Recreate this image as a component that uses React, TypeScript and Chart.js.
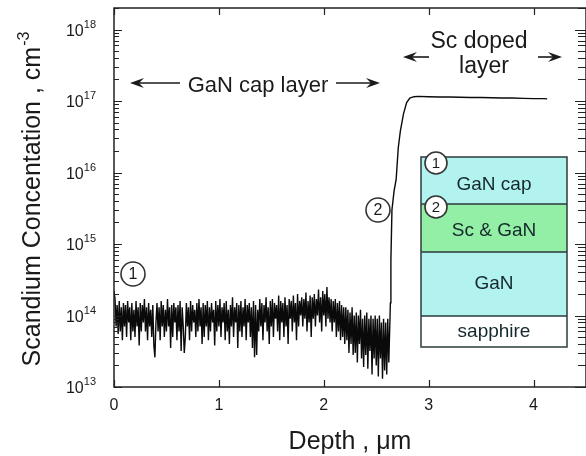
import React, { useEffect, useRef } from 'react';
import { Chart, registerables } from 'chart.js';

Chart.register(...registerables);

const W = 586;
const H = 456;

// depth grid of the noisy GaN-cap region (µm)
const capStartUm = 0;
const capStepUm = 0.01;
// Sc concentration in the GaN cap region, units of 1e13 cm^-3 (one value per 0.01 µm)
const capConc = [
  22, 17, 7, 14, 5.5, 16, 6, 13, 4.5, 15,
  7, 14, 5, 16, 8, 13, 4.5, 15, 6, 12,
  5, 16, 7, 13, 3.8, 15, 6, 14, 8, 17,
  6, 13, 4.5, 15, 7, 12, 5, 14, 3.8, 2.6,
  8, 15, 6, 13, 4.5, 16, 7, 14, 5, 12,
  6, 17, 7, 13, 3.5, 14, 5, 15, 8, 13,
  4.5, 14, 6, 16, 3.2, 13, 7, 3, 5, 15,
  7, 13, 4.5, 16, 6, 14, 8, 12, 5, 15,
  6, 17, 7, 13, 4, 15, 5, 14, 7, 16,
  4.5, 13, 6, 15, 8, 12, 3.8, 16, 6, 14,
  7, 17, 5, 13, 8, 15, 4.5, 16, 6, 12,
  4, 14, 7, 18, 5, 13, 8, 15, 3.5, 14,
  6, 16, 5, 13, 7, 17, 4.5, 14, 8, 15,
  5, 13, 3.5, 16, 2.6, 14, 2.8, 12, 6, 17,
  7, 15, 4.5, 14, 8, 18, 6, 13, 4, 16,
  7, 17, 5, 15, 9, 14, 6, 19, 4.5, 16,
  8, 15, 5, 18, 7, 14, 4, 17, 9, 16,
  6, 19, 8, 15, 4.5, 20, 7, 16, 10, 18,
  7, 17, 9, 21, 6, 16, 8, 19, 5, 18,
  9, 20, 7, 17, 10, 23, 8, 18, 6, 22,
  10, 20, 7, 25, 9, 18, 8, 17, 6, 16,
  8, 17, 5, 15, 6, 16, 4.5, 14, 5, 13,
  4, 13, 4.5, 12, 3, 11, 4, 13, 2.8, 10,
  3, 11, 2.2, 10, 4, 12, 2.5, 9, 1.9, 10,
  2.8, 11, 1.8, 9, 3.2, 10, 1.5, 9, 2.5, 10,
  2, 9, 1.4, 10, 2.5, 8, 1.3, 9, 1.7, 8,
  1.5, 9, 2.2,
];

// rise into and through the Sc-doped layer
const profileDepth = [2.635, 2.64, 2.65, 2.67, 2.69, 2.71, 2.73, 2.76, 2.79, 2.82, 2.86, 2.9, 3.0, 3.1, 3.2, 3.3, 3.4, 3.5, 3.6, 3.7, 3.8, 3.9, 4.0, 4.1, 4.13];
const profileConc = [15, 60, 300, 550, 800, 2200, 3800, 6600, 9500, 11000, 11500, 11600, 11500, 11400, 11400, 11300, 11200, 11200, 11100, 11000, 11000, 10900, 10800, 10800, 10700];
const concUnit = 1e13;

const xTickValues = [0, 1, 2, 3, 4];
const yDecades = [13, 14, 15, 16, 17, 18];
const xMin = 0;
const xMax = 4.5;
const yMin = 1e13;
const yMax = 2e18;

const layerNames = ['GaN cap', 'Sc & GaN', 'GaN', 'sapphire'];
const layerColors = ['#b2f3f0', '#93eea6', '#b2f3f0', '#ffffff'];

const FONT = "'Liberation Sans', Arial, Helvetica, sans-serif";
const INK = '#1a1a1a';

function arrow(ctx: CanvasRenderingContext2D, xFrom: number, xTip: number, y: number) {
  const dir = xTip > xFrom ? 1 : -1;
  ctx.beginPath();
  ctx.moveTo(xFrom, y);
  ctx.lineTo(xTip - dir * 6, y);
  ctx.lineWidth = 1.6;
  ctx.stroke();
  ctx.beginPath();
  ctx.moveTo(xTip, y);
  ctx.lineTo(xTip - dir * 14, y - 5);
  ctx.lineTo(xTip - dir * 9, y);
  ctx.lineTo(xTip - dir * 14, y + 5);
  ctx.closePath();
  ctx.fill();
}

function circled(ctx: CanvasRenderingContext2D, cx: number, cy: number, r: number, label: string, size: number) {
  ctx.beginPath();
  ctx.arc(cx, cy, r, 0, Math.PI * 2);
  ctx.fillStyle = '#ffffff';
  ctx.fill();
  ctx.lineWidth = 1.6;
  ctx.strokeStyle = '#333';
  ctx.stroke();
  ctx.fillStyle = INK;
  ctx.font = `${size}px ${FONT}`;
  ctx.textAlign = 'center';
  ctx.textBaseline = 'middle';
  ctx.fillText(label, cx, cy + 1);
}

const decorPlugin = {
  id: 'decor',
  afterDatasetsDraw(chart: any) {
    const { ctx, chartArea: a, scales } = chart;
    const xs = scales.x;
    const ys = scales.y;
    ctx.save();
    ctx.strokeStyle = '#222';
    ctx.fillStyle = INK;

    // frame
    ctx.lineWidth = 1.5;
    ctx.strokeRect(a.left, a.top, a.right - a.left, a.bottom - a.top);

    // y ticks (inward, both sides)
    ctx.lineWidth = 1.2;
    ctx.beginPath();
    for (const d of yDecades) {
      for (let m = 1; m <= 9; m++) {
        const v = m * Math.pow(10, d);
        if (v < yMin || v > yMax) continue;
        const y = Math.round(ys.getPixelForValue(v)) + 0.5;
        const len = m === 1 ? 8 : 5;
        ctx.moveTo(a.left, y);
        ctx.lineTo(a.left + len, y);
        ctx.moveTo(a.right, y);
        ctx.lineTo(a.right - len - 3, y);
      }
    }
    // x ticks (inward, top & bottom)
    for (const t of xTickValues) {
      const x = Math.round(xs.getPixelForValue(t)) + 0.5;
      ctx.moveTo(x, a.bottom);
      ctx.lineTo(x, a.bottom - 7);
      ctx.moveTo(x, a.top);
      ctx.lineTo(x, a.top + 7);
    }
    ctx.stroke();

    // y tick labels 10^n
    for (const d of yDecades) {
      const y = ys.getPixelForValue(Math.pow(10, d));
      const exp = String(d);
      ctx.font = `11px ${FONT}`;
      const ew = ctx.measureText(exp).width;
      const R = a.left - 18;
      ctx.textAlign = 'left';
      ctx.textBaseline = 'alphabetic';
      ctx.fillText(exp, R - ew, y - 2);
      ctx.font = `16px ${FONT}`;
      ctx.textAlign = 'right';
      ctx.fillText('10', R - ew, y + 6);
    }

    // x tick labels
    ctx.font = `16px ${FONT}`;
    ctx.textAlign = 'center';
    ctx.textBaseline = 'alphabetic';
    for (const t of xTickValues) {
      ctx.fillText(String(t), xs.getPixelForValue(t), a.bottom + 23);
    }

    // x title
    ctx.font = `25px ${FONT}`;
    ctx.fillText('Depth , \u03bcm', (a.left + a.right) / 2, 449);

    // y title (rotated)
    ctx.save();
    ctx.translate(40, (a.top + a.bottom) / 2 + 2);
    ctx.rotate(-Math.PI / 2);
    ctx.font = `25px ${FONT}`;
    const main = 'Scandium Concentation , cm';
    const mw = ctx.measureText(main).width;
    ctx.font = `16px ${FONT}`;
    const sup = '-3';
    const sw = ctx.measureText(sup).width;
    const start = -(mw + sw) / 2;
    ctx.textAlign = 'left';
    ctx.font = `25px ${FONT}`;
    ctx.fillText(main, start, 0);
    ctx.font = `16px ${FONT}`;
    ctx.fillText(sup, start + mw + 1, -11);
    ctx.restore();

    // annotations: GaN cap layer
    ctx.fillStyle = INK;
    ctx.strokeStyle = INK;
    arrow(ctx, 180, 130, 83);
    arrow(ctx, 336, 380, 83);
    ctx.font = `22px ${FONT}`;
    ctx.textAlign = 'center';
    ctx.textBaseline = 'alphabetic';
    ctx.fillText('GaN cap layer', 258, 92);

    // Sc doped layer
    ctx.font = `23px ${FONT}`;
    ctx.fillText('Sc doped', 479, 48);
    ctx.fillText('layer', 484, 73);
    arrow(ctx, 429, 403, 57);
    arrow(ctx, 538, 562, 57);

    // circled markers on the profile
    circled(ctx, 133, 274, 12, '1', 16);
    circled(ctx, 378, 210, 12, '2', 16);

    // inset layer stack
    const bx0 = 421, bx1 = 567;
    const bounds = [157, 204, 252, 316, 347];
    for (let i = 0; i < layerNames.length; i++) {
      ctx.fillStyle = layerColors[i];
      ctx.fillRect(bx0, bounds[i], bx1 - bx0, bounds[i + 1] - bounds[i]);
    }
    ctx.strokeStyle = '#2c3b3b';
    ctx.lineWidth = 1.5;
    ctx.strokeRect(bx0, bounds[0], bx1 - bx0, bounds[4] - bounds[0]);
    ctx.beginPath();
    for (let i = 1; i < 4; i++) {
      ctx.moveTo(bx0, bounds[i]);
      ctx.lineTo(bx1, bounds[i]);
    }
    ctx.stroke();
    ctx.fillStyle = '#15282c';
    ctx.font = `19px ${FONT}`;
    ctx.textAlign = 'center';
    ctx.textBaseline = 'middle';
    for (let i = 0; i < layerNames.length; i++) {
      const cy = (bounds[i] + bounds[i + 1]) / 2 + (i === 0 ? 4 : i === 1 ? 3 : 0);
      ctx.fillText(layerNames[i], (bx0 + bx1) / 2, cy);
    }
    circled(ctx, 436, 163, 11, '1', 15);
    circled(ctx, 436, 207, 11, '2', 15);

    ctx.restore();
  },
};

export default function App() {
  const ref = useRef<HTMLCanvasElement | null>(null);
  useEffect(() => {
    if (!ref.current) return;
    const pts: { x: number; y: number }[] = [];
    capConc.forEach((v, i) => pts.push({ x: capStartUm + i * capStepUm, y: v * concUnit }));
    profileDepth.forEach((d, i) => pts.push({ x: d, y: profileConc[i] * concUnit }));
    const chart = new Chart(ref.current, {
      type: 'line',
      data: {
        datasets: [
          {
            data: pts,
            borderColor: '#0a0a0a',
            borderWidth: 1.4,
            pointRadius: 0,
            tension: 0,
            fill: false,
          },
        ],
      },
      options: {
        responsive: false,
        animation: false,
        events: [],
        layout: { padding: { left: 114, top: 8, right: 0, bottom: 69 } },
        scales: {
          x: { type: 'linear', min: xMin, max: xMax, display: false },
          y: { type: 'logarithmic', min: yMin, max: yMax, display: false },
        },
        plugins: { legend: { display: false }, tooltip: { enabled: false } },
      },
      plugins: [decorPlugin],
    } as any);
    return () => chart.destroy();
  }, []);
  return (
    <div style={{ position: 'fixed', left: 0, top: 0, width: W, height: H, background: '#fff' }}>
      <canvas ref={ref} width={W} height={H} style={{ display: 'block' }} />
    </div>
  );
}
